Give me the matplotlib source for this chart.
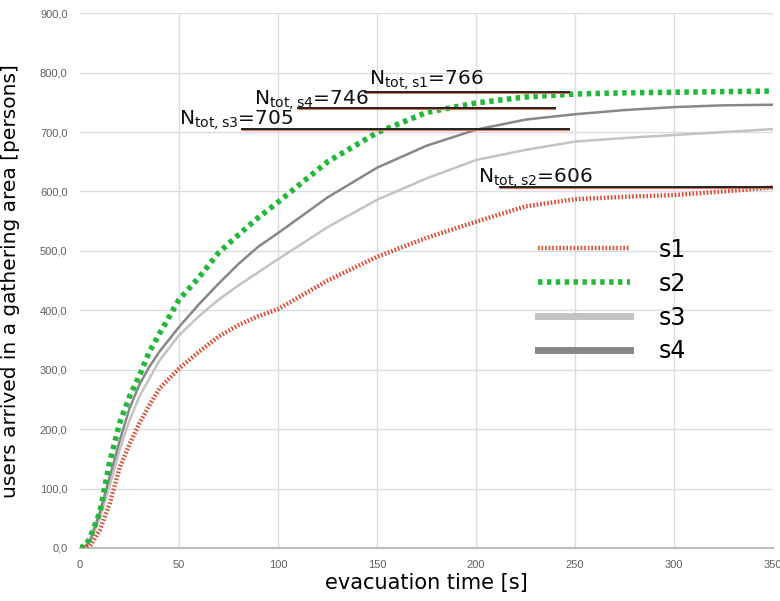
import matplotlib
matplotlib.use("Agg")
import matplotlib.pyplot as plt
from matplotlib.lines import Line2D

# ---- data ----
t = [0, 3, 5, 10, 15, 20, 25, 30, 35, 40, 50, 60, 70, 80, 90, 100,
     125, 150, 175, 200, 225, 250, 275, 300, 325, 350]
s1 = [0, 1, 3, 30, 75, 135, 175, 210, 240, 268, 302, 330, 356, 375, 390, 402,
      450, 490, 522, 549, 575, 587, 591, 594, 600, 607]
s2 = [0, 5, 17, 60, 145, 210, 255, 290, 330, 360, 418, 455, 497, 527, 556, 582,
      650, 699, 733, 749, 759, 764, 766, 767, 768, 769]
s3 = [0, 3, 10, 50, 105, 165, 215, 255, 285, 315, 358, 390, 418, 442, 464, 486,
      540, 586, 622, 653, 670, 684, 690, 695, 700, 705]
s4 = [0, 4, 12, 60, 120, 180, 235, 275, 305, 330, 372, 410, 445, 478, 507, 530,
      590, 640, 677, 704, 721, 730, 737, 742, 745, 746]
series_names = ["s1", "s2", "s3", "s4"]

x_ticks = [0, 50, 100, 150, 200, 250, 300, 350]
y_ticks = [0, 100, 200, 300, 400, 500, 600, 700, 800, 900]
y_tick_labels = ["0,0", "100,0", "200,0", "300,0", "400,0", "500,0",
                 "600,0", "700,0", "800,0", "900,0"]

# annotations: (subscript, value, line y, line x start, line x end, text x, text y)
ann_sub = ["tot,s1", "tot,s4", "tot,s3", "tot,s2"]
ann_val = [766, 746, 705, 606]
ann_line_y = [767, 740, 705, 608]
ann_x0 = [144, 110, 82, 212]
ann_x1 = [247, 240, 247, 351]
ann_tx = [146, 88, 50, 201]
ann_ty = [779, 746, 712, 614]

# ---- figure ----
fig = plt.figure(figsize=(7.8, 6.01), dpi=100)
ax = fig.add_axes([0.1026, 0.0882, 0.8885, 0.8898])

c1, c2, c3, c4 = "#e0452c", "#22b83a", "#c3c3c3", "#878787"
ax.plot(t, s3, color=c3, lw=1.8, zorder=3)
ax.plot(t, s4, color=c4, lw=1.8, zorder=3)
ax.plot(t, s1, color=c1, lw=3.2, linestyle=(0, (0.35, 0.45)), zorder=4)
ax.plot(t, s2, color=c2, lw=4.0, linestyle=(0, (0.8, 0.8)), zorder=5)

ax.set_xlim(0, 350)
ax.set_ylim(0, 900)
ax.set_xticks(x_ticks)
ax.set_xticklabels([str(v) for v in x_ticks])
ax.set_yticks(y_ticks)
ax.set_yticklabels(y_tick_labels)
ax.tick_params(length=0, labelsize=8, labelcolor="#606060", pad=9)
for lab in ax.get_xticklabels() + ax.get_yticklabels():
    lab.set_family("Liberation Sans")

for v in y_ticks[1:]:
    ax.axhline(v, color="#d8dde3", lw=1.0, zorder=1)
for v in x_ticks[1:]:
    ax.axvline(v, color="#d8dde3", lw=1.0, zorder=1)
for s in ["top", "right", "left"]:
    ax.spines[s].set_visible(False)
ax.spines["bottom"].set_color("#bdbdbd")
ax.spines["bottom"].set_linewidth(1.5)

ax.set_xlabel("evacuation time [s]", fontsize=15, labelpad=2)
ax.set_ylabel("users arrived in a gathering area [persons]", fontsize=14.5, labelpad=14)

for sub, val, ly, x0, x1, tx, ty in zip(ann_sub, ann_val, ann_line_y, ann_x0,
                                         ann_x1, ann_tx, ann_ty):
    ax.plot([x0, x1], [ly - 1.6, ly - 1.6], color="#e07050", lw=0.8, zorder=6)
    ax.plot([x0, x1], [ly, ly], color="#222222", lw=1.4, zorder=7)
    ax.text(tx, ty, r"$\mathregular{N_{%s}}$=%d" % (sub, val), fontsize=14.5,
            color="#111111", ha="left", va="baseline", zorder=8)

handles = [
    Line2D([], [], color=c1, lw=3.2, linestyle=(0, (0.35, 0.45))),
    Line2D([], [], color=c2, lw=4.0, linestyle=(0, (0.8, 0.8))),
    Line2D([], [], color=c3, lw=5.0),
    Line2D([], [], color=c4, lw=5.0),
]
ax.legend(handles, series_names, loc="upper left", bbox_to_anchor=(0.63, 0.62),
          frameon=False, fontsize=17, handlelength=3.9, labelspacing=0.42,
          handletextpad=1.2)

fig.savefig("out.png", dpi=100)
